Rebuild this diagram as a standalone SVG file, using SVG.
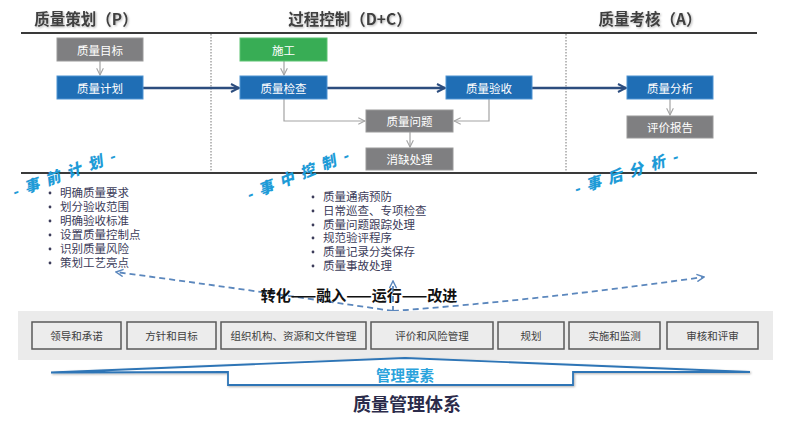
<svg xmlns="http://www.w3.org/2000/svg" width="799" height="430" viewBox="0 0 799 430">
<defs>
<style>
.cjk{font-family:"Noto Sans CJK SC","Noto Sans",sans-serif}
.hdr{font-size:15.5px;font-weight:bold;fill:#3f3f3f;text-anchor:middle}
.bx text{font-size:11.5px;fill:#fff;text-anchor:middle;dominant-baseline:central}
.blue{fill:#1f6eb5;stroke:#4f93d2;stroke-width:1}
.gray{fill:#7f7f81;stroke:#9a9a9a;stroke-width:1}
.green{fill:#38ad55;stroke:#5cc373;stroke-width:1}
.main{stroke:#2c4d7e;stroke-width:2.5;fill:none}
.thin{stroke:#a3a3a3;stroke-width:1.2;fill:none}
.dash{stroke:#5b87bd;stroke-width:1.8;fill:none;stroke-dasharray:6 4}
.phase{font-size:15px;font-weight:900;font-style:italic;fill:#1e9bd7;text-anchor:middle;letter-spacing:2px}
.li{font-size:11.5px;fill:#3c3c5a}
.dot{fill:#3c3c5a}
.el rect{fill:#ececec;stroke:#5a5a5a;stroke-width:1.5}
.el text{font-size:10.5px;fill:#404040;text-anchor:middle;dominant-baseline:central}
</style>
<marker id="chevBlue" viewBox="0 0 10 10" refX="9" refY="5" markerWidth="4" markerHeight="4" orient="auto" markerUnits="strokeWidth">
<path d="M1 1 L9 5 L1 9" fill="none" stroke="#2c4d7e" stroke-width="2"/>
</marker>
<marker id="chevGray" viewBox="0 0 10 10" refX="9" refY="5" markerWidth="7" markerHeight="7" orient="auto" markerUnits="strokeWidth">
<path d="M1 1 L9 5 L1 9" fill="none" stroke="#a3a3a3" stroke-width="1.3"/>
</marker>
<marker id="chevDash" viewBox="0 0 10 10" refX="9" refY="5" markerWidth="5" markerHeight="5" orient="auto-start-reverse" markerUnits="strokeWidth">
<path d="M1 1 L9 5 L1 9" fill="none" stroke="#5b87bd" stroke-width="1.6"/>
</marker>
<filter id="shadow" x="-10%" y="-30%" width="130%" height="160%">
<feDropShadow dx="1" dy="1" stdDeviation="0.8" flood-color="#000" flood-opacity="0.3"/>
</filter>
</defs>
<rect width="799" height="430" fill="#fff"/>

<!-- frame lines -->
<g id="frame">
<line x1="21" y1="33" x2="757" y2="33" stroke="#3a3a3a" stroke-width="2"/>
<line x1="21" y1="173" x2="757" y2="173" stroke="#3a3a3a" stroke-width="2"/>
<line x1="211" y1="34" x2="211" y2="172" stroke="#777" stroke-width="1" stroke-dasharray="1.5 1.5"/>
<line x1="566" y1="34" x2="566" y2="172" stroke="#777" stroke-width="1" stroke-dasharray="1.5 1.5"/>
</g>

<!-- headers -->
<g id="headers" class="cjk" filter="url(#shadow)">
<text class="hdr" x="86" y="25">质量策划（P）</text>
<text class="hdr" x="350" y="25">过程控制（D+C）</text>
<text class="hdr" x="650" y="25">质量考核（A）</text>
</g>

<!-- connectors -->
<g id="connectors">
<line class="main" x1="143" y1="88" x2="239" y2="88" marker-end="url(#chevBlue)"/>
<line class="main" x1="327" y1="88" x2="445" y2="88" marker-end="url(#chevBlue)"/>
<line class="main" x1="532" y1="88" x2="626" y2="88" marker-end="url(#chevBlue)"/>
<line class="thin" x1="100" y1="61" x2="100" y2="75" marker-end="url(#chevGray)"/>
<line class="thin" x1="284" y1="61" x2="284" y2="75" marker-end="url(#chevGray)"/>
<path class="thin" d="M284 99 V121 H365" marker-end="url(#chevGray)"/>
<path class="thin" d="M489 99 V121 H454" marker-end="url(#chevGray)"/>
<line class="thin" x1="410" y1="132" x2="410" y2="147" marker-end="url(#chevGray)"/>
<line class="thin" x1="670" y1="99" x2="670" y2="115" marker-end="url(#chevGray)"/>
<path class="dash" d="M393 311 Q250 290 116 272" marker-end="url(#chevDash)"/>
<path class="dash" d="M393 311 Q540 300 704 277" marker-end="url(#chevDash)"/>
<line class="dash" x1="393" y1="312" x2="393" y2="281" marker-end="url(#chevDash)"/>
</g>

<!-- process nodes -->
<g id="n-mubiao" class="bx cjk"><rect class="gray" x="57" y="38" width="86" height="23"/><text x="100" y="49.5">质量目标</text></g>
<g id="n-jihua" class="bx cjk"><rect class="blue" x="57" y="76" width="86" height="23"/><text x="100" y="87.5">质量计划</text></g>
<g id="n-shigong" class="bx cjk"><rect class="green" x="240" y="38" width="87" height="23"/><text x="283.5" y="49.5">施工</text></g>
<g id="n-jiancha" class="bx cjk"><rect class="blue" x="240" y="76" width="87" height="23"/><text x="283.5" y="87.5">质量检查</text></g>
<g id="n-yanshou" class="bx cjk"><rect class="blue" x="446" y="76" width="86" height="23"/><text x="489" y="87.5">质量验收</text></g>
<g id="n-fenxi" class="bx cjk"><rect class="blue" x="627" y="76" width="86" height="23"/><text x="670" y="87.5">质量分析</text></g>
<g id="n-baogao" class="bx cjk"><rect class="gray" x="627" y="116" width="86" height="22"/><text x="670" y="127">评价报告</text></g>
<g id="n-wenti" class="bx cjk"><rect class="gray" x="366" y="110" width="87" height="22"/><text x="409.5" y="121">质量问题</text></g>
<g id="n-xiaoque" class="bx cjk"><rect class="gray" x="366" y="148" width="87" height="22"/><text x="409.5" y="159">消缺处理</text></g>

<!-- phase labels -->
<g id="phases" class="cjk">
<text class="phase" transform="translate(66,179) rotate(-20)">- 事 前 计 划 -</text>
<text class="phase" transform="translate(300,180) rotate(-22)">- 事 中 控 制 -</text>
<text class="phase" transform="translate(628,178) rotate(-18)">- 事 后 分 析 -</text>
</g>

<!-- bullet lists -->
<g id="list-pre" class="cjk li">
<circle class="dot" cx="50" cy="193" r="1.4"/><text x="60" y="197">明确质量要求</text>
<circle class="dot" cx="50" cy="207" r="1.4"/><text x="60" y="211">划分验收范围</text>
<circle class="dot" cx="50" cy="221" r="1.4"/><text x="60" y="225">明确验收标准</text>
<circle class="dot" cx="50" cy="235" r="1.4"/><text x="60" y="239">设置质量控制点</text>
<circle class="dot" cx="50" cy="249" r="1.4"/><text x="60" y="253">识别质量风险</text>
<circle class="dot" cx="50" cy="263" r="1.4"/><text x="60" y="267">策划工艺亮点</text>
</g>
<g id="list-mid" class="cjk li">
<circle class="dot" cx="313" cy="197" r="1.4"/><text x="323" y="201">质量通病预防</text>
<circle class="dot" cx="313" cy="211" r="1.4"/><text x="323" y="215">日常巡查、专项检查</text>
<circle class="dot" cx="313" cy="225" r="1.4"/><text x="323" y="229">质量问题跟踪处理</text>
<circle class="dot" cx="313" cy="238" r="1.4"/><text x="323" y="242">规范验评程序</text>
<circle class="dot" cx="313" cy="252" r="1.4"/><text x="323" y="256">质量记录分类保存</text>
<circle class="dot" cx="313" cy="266" r="1.4"/><text x="323" y="270">质量事故处理</text>
</g>

<g id="cycle" class="cjk"><text x="359" y="301" font-size="15" font-weight="bold" fill="#111" text-anchor="middle">转化——融入——运行——改进</text></g>

<!-- management elements band -->
<g id="band">
<rect x="18" y="311" width="755" height="49" fill="#ebebeb"/>
</g>
<g id="e1" class="el cjk"><rect x="32" y="322" width="89" height="27"/><text x="76.5" y="335.5">领导和承诺</text></g>
<g id="e2" class="el cjk"><rect x="127" y="322" width="89" height="27"/><text x="171.5" y="335.5">方针和目标</text></g>
<g id="e3" class="el cjk"><rect x="221" y="322" width="145" height="27"/><text x="293.5" y="335.5">组织机构、资源和文件管理</text></g>
<g id="e4" class="el cjk"><rect x="371" y="322" width="122" height="27"/><text x="432" y="335.5">评价和风险管理</text></g>
<g id="e5" class="el cjk"><rect x="498" y="322" width="66" height="27"/><text x="531" y="335.5">规划</text></g>
<g id="e6" class="el cjk"><rect x="569" y="322" width="91" height="27"/><text x="614.5" y="335.5">实施和监测</text></g>
<g id="e7" class="el cjk"><rect x="667" y="322" width="91" height="27"/><text x="712.5" y="335.5">审核和评审</text></g>

<!-- brace banner -->
<g id="banner">
<path d="M51 372.5 L405 358 L750 372 L573 372 L573 385 L228 385 L228 372 Z" fill="#fff" stroke="#2e75b6" stroke-width="1.8" stroke-linejoin="miter" filter="url(#shadow)"/>
<text class="cjk" x="405" y="381" font-size="14.5" font-weight="bold" fill="#2aa3dc" text-anchor="middle">管理要素</text>
</g>
<g id="title"><text class="cjk" x="407" y="411" font-size="18" font-weight="bold" fill="#2b2b4a" text-anchor="middle">质量管理体系</text></g>
</svg>
